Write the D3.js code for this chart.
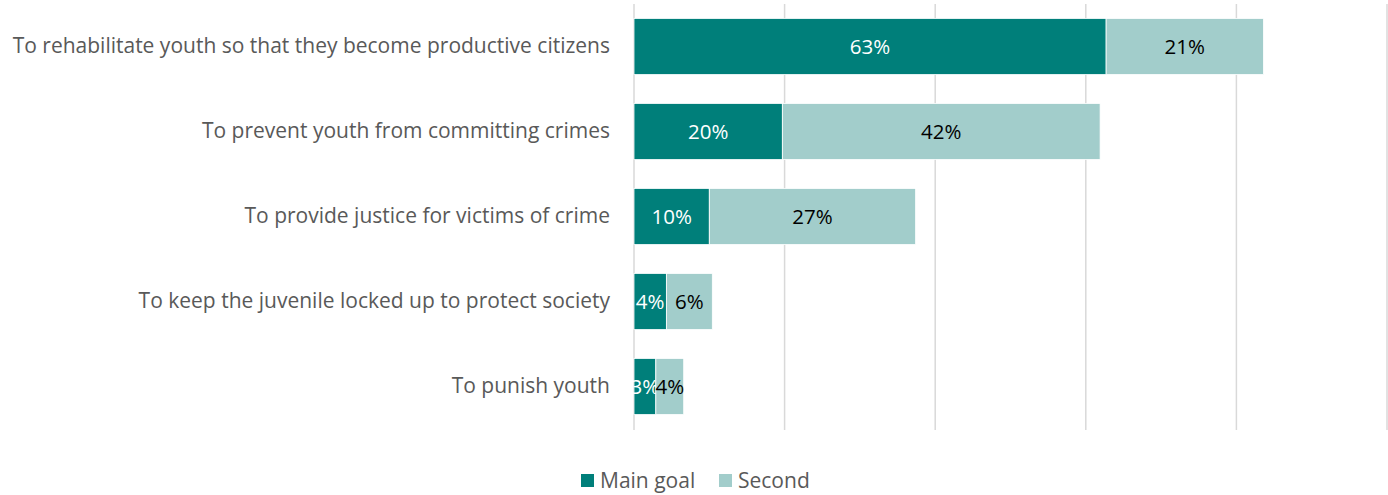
<!DOCTYPE html>
<html>
<head>
<meta charset="utf-8">
<script src="https://cdn.jsdelivr.net/npm/d3@7"></script>
<style>
  body { margin: 0; background: #fff; }
  text { font-family: "Open Sans", "Noto Sans", sans-serif; }
</style>
</head>
<body>
<div id="chart"></div>
<script>
const categories = [
  'To rehabilitate youth so that they become productive citizens',
  'To prevent youth from committing crimes',
  'To provide justice for victims of crime',
  'To keep the juvenile locked up to protect society',
  'To punish youth'
];
const seriesNames = ['Main goal', 'Second'];
const mainGoal = [0.627, 0.197, 0.10, 0.043, 0.029];
const second = [0.209, 0.422, 0.274, 0.061, 0.037];
const mainLabels = ['63%', '20%', '10%', '4%', '3%'];
const secondLabels = ['21%', '42%', '27%', '6%', '4%'];
const gridTicks = [0, 0.2, 0.4, 0.6, 0.8, 1.0];
const colors = ['#007f7a', '#a2cdcb'];

const width = 1388, height = 495;
const margin = { top: 4, right: 1, bottom: 65, left: 634 };

const svg = d3.select('#chart').append('svg')
  .attr('width', width)
  .attr('height', height);

const x = d3.scaleLinear()
  .domain([0, 1])
  .range([margin.left, 1387]);

const y = d3.scaleBand()
  .domain(categories)
  .range([margin.top, height - margin.bottom - 1])
  .paddingInner(0.34)
  .paddingOuter(0.17);

// gridlines
svg.append('g')
  .selectAll('line')
  .data(gridTicks)
  .join('line')
    .attr('x1', d => x(d))
    .attr('x2', d => x(d))
    .attr('y1', margin.top)
    .attr('y2', height - margin.bottom)
    .attr('stroke', '#d9d9d9')
    .attr('stroke-width', 1.5);

const rows = categories.map((c, i) => ({ cat: c, vals: [mainGoal[i], second[i]], labels: [mainLabels[i], secondLabels[i]] }));
const stacked = d3.stack().keys([0, 1]).value((d, k) => d.vals[k])(rows);

const layer = svg.append('g')
  .selectAll('g')
  .data(stacked)
  .join('g')
    .attr('fill', (d, i) => colors[i]);

layer.selectAll('rect')
  .data(d => d)
  .join('rect')
    .attr('x', d => x(d[0]))
    .attr('y', d => y(d.data.cat))
    .attr('width', d => x(d[1]) - x(d[0]))
    .attr('height', y.bandwidth())
    .attr('stroke', '#fff')
    .attr('stroke-width', 0.8);

layer.selectAll('text')
  .data((d, i) => d.map(p => ({ p, i })))
  .join('text')
    .attr('x', d => (x(d.p[0]) + x(d.p[1])) / 2)
    .attr('y', d => y(d.p.data.cat) + y.bandwidth() / 2)
    .attr('dy', '0.35em')
    .attr('text-anchor', 'middle')
    .attr('font-size', 20.5)
    .attr('fill', d => d.i === 0 ? '#fff' : '#000')
    .text(d => d.p.data.labels[d.i]);

// category axis
const yAxis = svg.append('g')
  .attr('transform', `translate(${margin.left},0)`)
  .call(d3.axisLeft(y).tickSize(0).tickPadding(24));
yAxis.select('.domain').remove();
yAxis.selectAll('text')
  .attr('font-size', 21)
  .attr('fill', '#595959')
  .style('font-family', '"Open Sans", "Noto Sans", sans-serif');

// legend
const legendX = [581, 719];
const legend = svg.append('g')
  .selectAll('g')
  .data(seriesNames)
  .join('g')
    .attr('transform', (d, i) => `translate(${legendX[i]},474)`);
legend.append('rect')
  .attr('width', 13).attr('height', 13)
  .attr('fill', (d, i) => colors[i]);
legend.append('text')
  .attr('x', 19).attr('y', 7)
  .attr('dy', '0.35em')
  .attr('font-size', 21)
  .attr('fill', '#595959')
  .text(d => d);
</script>
</body>
</html>
